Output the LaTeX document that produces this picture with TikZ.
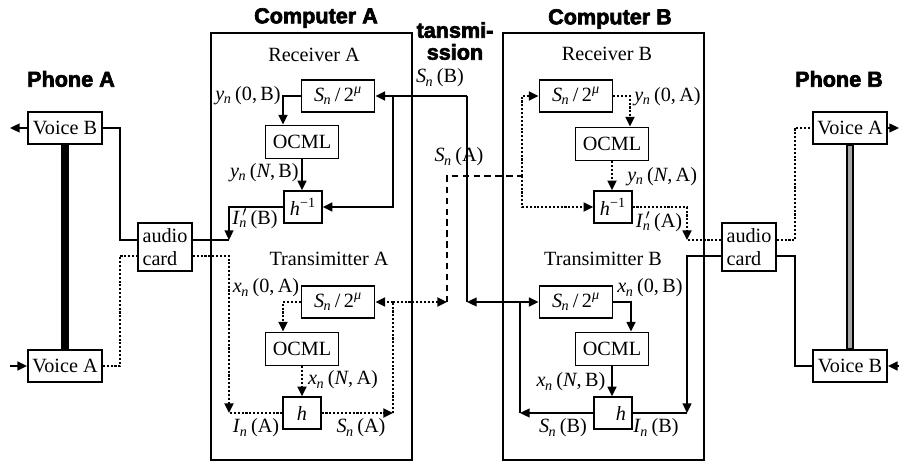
\documentclass[tikz,border=0pt]{standalone}
\usepackage{fontspec}
\setmainfont{Liberation Serif}
\newfontfamily\headfont{Liberation Sans}[BoldFeatures={FakeBold=3}]
\usetikzlibrary{arrows.meta,calc}
\newcommand{\vsub}[2]{\textit{#1}\textsubscript{\kern-0.3pt\textit{#2}}}
\newcommand{\sdiv}{\vsub{S}{n}\,/\,2\textsuperscript{\textit{μ}}}
\newcommand{\hinv}{\textit{h}\textsuperscript{−1}}
\newcommand{\iprime}{\textit{I}\rlap{\textsuperscript{\,$\prime$}}\textsubscript{\kern-0.3pt\textit{n}}}
\tikzset{blk/.style={draw,line width=1pt,inner sep=0pt,minimum height=0.63cm},
  sbox/.style={blk,minimum width=1.46cm},
  obox/.style={blk,minimum width=1.46cm,minimum height=0.66cm},
  hbox/.style={blk,minimum width=0.75cm},
  vbox/.style={blk,minimum width=1.48cm},
  abox/.style={blk,minimum width=1.08cm,minimum height=0.96cm,align=left},
  head/.style={font=\fontsize{12.3}{12.5}\selectfont\headfont\bfseries,inner sep=0pt},
  lbl/.style={inner sep=0pt},
  sig/.style={line width=1.1pt},
  dotln/.style={sig,line width=1.3pt,dash pattern=on 1.2pt off 1pt},
  dshln/.style={sig,dash pattern=on 3.6pt off 2.6pt},
  arr/.style={-{Triangle[length=5.5pt,width=5pt]}}}

\begin{document}
\begin{tikzpicture}[x=0.02cm,y=-0.02cm,font=\fontsize{11.5}{13}\selectfont]
\useasboundingbox (0,0) rectangle (899,462);
% headings
\node[head] (phA) at (71,79) {Phone A};
\node[head] (compA) at (316,18) {Computer A};
\node[head,align=center] (trans) at (455,41) {tansmi-\\ssion};
\node[head] (compB) at (610,19) {Computer B};
\node[head] (phB) at (839,79) {Phone B};
% computers
\draw[sig] (211,33) rectangle (412,460);
\draw[sig] (503,33) rectangle (704,460);
\node[lbl] (recA) at (314,55) {Receiver A};
\node[lbl] (recB) at (607,54) {Receiver B};
\node[lbl] (trA) at (329,259) {Transimitter A};
\node[lbl] (trB) at (603,259) {Transimitter B};
% blocks
\node[sbox] (sRA) at (338,96) {\sdiv};
\node[obox] (oRA) at (302,142) {OCML};
\node[hbox] (hRA) at (303,207) {\hinv};
\node[sbox] (sRB) at (576,96) {\sdiv};
\node[obox] (oRB) at (612,144) {OCML};
\node[hbox] (hRB) at (613,207) {\hinv};
\node[sbox] (sTA) at (338,302) {\sdiv};
\node[obox] (oTA) at (302,349) {OCML};
\node[hbox] (hTA) at (302,413) {\textit{h}\hspace{9pt}};
\node[sbox] (sTB) at (576,302) {\sdiv};
\node[obox] (oTB) at (612,349) {OCML};
\node[hbox] (hTB) at (613,413) {\hspace{9pt}\textit{h}};
% phones and audio cards
\node[vbox] (vBA) at (65,128) {Voice B};
\node[vbox] (vAA) at (65,366) {Voice A};
\node[vbox] (vAB) at (850,128) {Voice A};
\node[vbox] (vBB) at (850,366) {Voice B};
\node[abox] (acA) at (165,247) {audio\\card};
\node[abox] (acB) at (749,247) {audio\\card};
\draw[line width=5pt] (vBA.south) -- (vAA.north);
\draw[line width=5pt] (vAB.south) -- (vBB.north);
\draw[line width=2.4pt,gray!70] ([yshift=-0.5pt]vAB.south) -- ([yshift=0.5pt]vBB.north);
% junctions
\coordinate (outA) at (10,128);
\coordinate (inVA) at (10,366);
\coordinate (outB) at (899,128);
\coordinate (inVB) at (899,366);
\coordinate (aAu) at (120,240);
\coordinate (aAl) at (120,256);
\coordinate (ipA) at (229,240);
\coordinate (aAr) at (229,256);
\coordinate (inA) at (229,413);
\coordinate (yA0) at (283,96);
\coordinate (brA) at (393,96);
\coordinate (sbT) at (467,96);
\coordinate (sbM) at (467,302);
\coordinate (sbJ) at (520,302);
\coordinate (sbO) at (520,413);
\coordinate (xB0) at (631,302);
\coordinate (ipB) at (687,240);
\coordinate (aBr) at (687,256);
\coordinate (inB) at (687,413);
\coordinate (aBu) at (795,240);
\coordinate (aBl) at (795,256);
\coordinate (xA0) at (283,302);
\coordinate (saO) at (393,413);
\coordinate (saJ) at (393,302);
\coordinate (saM) at (447,302);
\coordinate (saT) at (447,176);
\coordinate (saR) at (522,176);
\coordinate (yB0) at (630,96);
% phone A side
\draw[sig,arr] (vBA.west) -- (outA);
\draw[sig,arr] (inVA) -- (vAA.west);
\draw[sig] (vBA.east) -| (aAu) -- (aAu -| acA.west);
\draw[dotln] (vAA.east) -| (aAl) -- (aAl -| acA.west);
\draw[sig] (ipA -| acA.east) -- (ipA);
\draw[sig,arr] (hRA.west) -| (ipA);
\draw[dotln,arr] (aAr -| acA.east) -- (aAr) -- (inA);
\draw[dotln] (hTA.west) -- (inA);
% receiver A
\draw[sig,arr] (sRA.west) -- (yA0) -- (yA0 |- oRA.north);
\draw[sig,arr] (oRA.south) -- (oRA.south |- hRA.north);
\draw[sig,arr] (sbT) -- (sRA.east);
\draw[sig,arr] (brA) |- (hRA.east);
\draw[sig] (sbT) -- (sbM);
% transmitter B
\draw[sig,arr] (sbJ) -- (sbM);
\draw[sig,arr] (sbJ) -- (sTB.west);
\draw[sig] (sbO) -- (sbJ);
\draw[sig,arr] (hTB.west) -- (sbO);
\draw[sig,arr] (sTB.east) -- (xB0) -- (xB0 |- oTB.north);
\draw[sig,arr] (oTB.south) -- (oTB.south |- hTB.north);
\draw[sig,arr] (aBr -| acB.west) -- (aBr) -- (inB);
\draw[sig] (hTB.east) -- (inB);
% transmitter A
\draw[dotln,arr] (sTA.west) -- (xA0) -- (xA0 |- oTA.north);
\draw[dotln,arr] (oTA.south) -- (oTA.south |- hTA.north);
\draw[dotln,arr] (hTA.east) -- (saO);
\draw[dotln] (saO) -- (saJ);
\draw[dotln,arr] (saJ) -- (sTA.east);
\draw[dotln,arr] (saJ) -- (saM);
\draw[dshln] (saM) -- (saT) -- (saR);
% receiver B
\draw[dotln,arr] (saR) |- (sRB.west);
\draw[dotln,arr] (saR) |- (hRB.west);
\draw[dotln,arr] (sRB.east) -- (yB0) -- (yB0 |- oRB.north);
\draw[dotln,arr] (oRB.south) -- (oRB.south |- hRB.north);
\draw[dotln,arr] (hRB.east) -| (ipB);
\draw[dotln] (ipB -| acB.west) -- (ipB);
% phone B side
\draw[dotln] (aBu -| acB.east) -- (aBu) |- (vAB.west);
\draw[sig] (aBl -| acB.east) -- (aBl) |- (vBB.west);
\draw[sig,arr] (vAB.east) -- (outB);
\draw[sig,arr] (inVB) -- (vBB.east);
% labels
\node[lbl,anchor=east] (lyA0) at (281,96) {\vsub{y}{n}\,(0,\,B)};
\node[lbl,anchor=east] (lyAN) at (299,173) {\vsub{y}{n}\,(\textit{N},\,B)};
\node[lbl] (liA) at (255,219) {\iprime\,(B)};
\node[lbl] (lsB) at (440,78) {\vsub{S}{n}\,(B)};
\node[lbl] (lsA) at (459,157) {\vsub{S}{n}\,(A)};
\node[lbl,anchor=west] (lyB0) at (634,97) {\vsub{y}{n}\,(0,\,A)};
\node[lbl,anchor=west] (lyBN) at (627,177) {\vsub{y}{n}\,(\textit{N},\,A)};
\node[lbl] (liB) at (659,222) {\iprime\,(A)};
\node[lbl] (lxA0) at (266,288) {\vsub{x}{n}\,(0,\,A)};
\node[lbl] (lxAN) at (343,380) {\vsub{x}{n}\,(\textit{N},\,A)};
\node[lbl] (lInA) at (256,428) {\vsub{I}{n}\,(A)};
\node[lbl] (lSnA) at (361,428) {\vsub{S}{n}\,(A)};
\node[lbl] (lxB0) at (650,288) {\vsub{x}{n}\,(0,\,B)};
\node[lbl] (lxBN) at (571,382) {\vsub{x}{n}\,(\textit{N},\,B)};
\node[lbl] (lSnB) at (563,428) {\vsub{S}{n}\,(B)};
\node[lbl] (lInB) at (656,428) {\vsub{I}{n}\,(B)};
\end{tikzpicture}
\end{document}
